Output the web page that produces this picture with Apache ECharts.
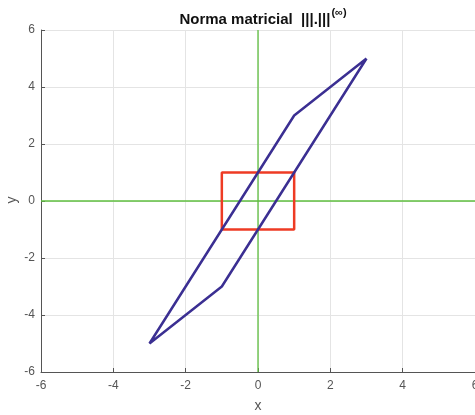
<!DOCTYPE html>
<html><head><meta charset="utf-8">
<script src="https://cdn.jsdelivr.net/npm/echarts@6/dist/echarts.min.js"></script>
<style>html,body{margin:0;padding:0;background:#fff}#c{width:475px;height:415px}</style>
</head><body><div id="c"></div>
<script>
const squareX = [-1, 1, 1, -1, -1];
const squareY = [-1, -1, 1, 1, -1];
const paraX = [3, 1, -3, -1, 3];
const paraY = [5, 3, -5, -3, 5];
const axisTicks = [-6, -4, -2, 0, 2, 4, 6];

const chart = echarts.init(document.getElementById('c'));
const zip = (a, b) => a.map((v, i) => [v, b[i]]);
const font = 'Arial, Liberation Sans, sans-serif';
chart.setOption({
  animation: false,
  title: {
    text: '{t|Norma matricial  |||.|||}{s|(∞)}',
    left: 258, top: 2, textAlign: 'center',
    textStyle: {
      rich: {
        t: {fontFamily: font, fontSize: 15, fontWeight: 'bold', color: '#111', verticalAlign: 'bottom', lineHeight: 20},
        s: {fontFamily: font, fontSize: 11, color: '#111', verticalAlign: 'top', padding: [0, 0, 9, 1], lineHeight: 20}
      }
    }
  },
  graphic: [{
    type: 'text', x: 12, y: 200, rotation: Math.PI / 2,
    style: {text: 'y', fill: '#555', font: '14px ' + font, align: 'center', verticalAlign: 'middle'}
  }],
  grid: {left: 41, right: 0, top: 30, bottom: 43, containLabel: false, outerBoundsMode: 'none'},
  xAxis: {
    type: 'value', min: -6, max: 6, interval: 2,
    name: 'x', nameLocation: 'middle', nameGap: 27,
    nameTextStyle: {color: '#555', fontSize: 14, fontFamily: font},
    axisLine: {show: true, onZero: false, lineStyle: {color: '#555', width: 1}},
    axisTick: {show: true, inside: true, length: 4, lineStyle: {color: '#555'}},
    axisLabel: {color: '#555', fontSize: 12, fontFamily: font, margin: 8},
    splitLine: {show: true, lineStyle: {color: '#e4e4e4', width: 1}}
  },
  yAxis: {
    type: 'value', min: -6, max: 6, interval: 2,
    axisLine: {show: true, onZero: false, lineStyle: {color: '#555', width: 1}},
    axisTick: {show: true, inside: true, length: 4, lineStyle: {color: '#555'}},
    axisLabel: {color: '#555', fontSize: 12, fontFamily: font, margin: 6},
    splitLine: {show: true, lineStyle: {color: '#e4e4e4', width: 1}}
  },
  series: [
    {type: 'line', data: [[axisTicks[0], 0], [axisTicks[6], 0]], symbol: 'none', lineStyle: {color: '#5fbf3f', width: 1.3}, z: 2},
    {type: 'line', data: [[0, axisTicks[0]], [0, axisTicks[6]]], symbol: 'none', lineStyle: {color: '#5fbf3f', width: 1.3}, z: 2},
    {type: 'line', data: zip(squareX, squareY), symbol: 'none', lineStyle: {color: '#ee3b24', width: 2.5}, z: 3},
    {type: 'line', data: zip(paraX, paraY), symbol: 'none', lineStyle: {color: '#3b2f92', width: 2.5}, z: 4}
  ]
});
</script></body></html>
